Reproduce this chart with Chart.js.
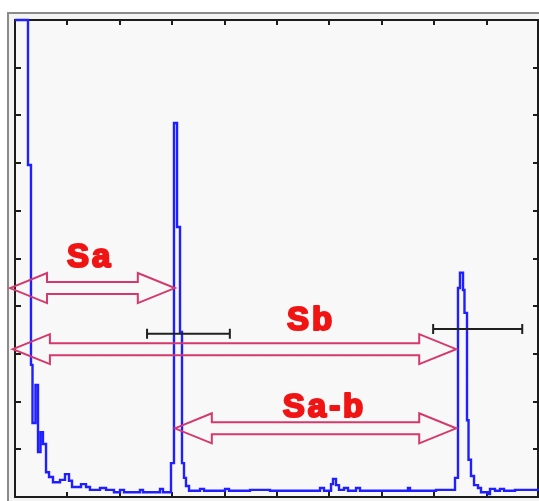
<!DOCTYPE html>
<html lang="en">
<head>
    <meta charset="UTF-8">
    <title>Spectrum Sa / Sb</title>
    <style>
        body { margin: 0; background: #fff; }
        canvas { display: block; }
    </style>
</head>
<body>
    <canvas id="myChart" width="539" height="501"></canvas>

    <script src="https://cdn.jsdelivr.net/npm/chart.js"></script>

    <script>
        // spectrum (x = channel, y = relative intensity, 0..100)
        const specX = [0, 2.48, 3.05, 3.34, 3.91, 4.39, 4.87, 5.34, 5.92, 6.49, 7.25, 8.59, 9.54, 10.31,
            10.88, 12.6, 13.55, 14.31, 16.22, 17.37, 18.89, 20.04, 20.8, 23.85, 24.43, 27.67, 28.24,
            29.77, 30.34, 30.92, 31.49, 31.87, 32.25, 32.63, 33.21, 35.31, 36.07, 40.08, 40.84, 44.85,
            48.66, 58.21, 58.97, 60.31, 60.69, 61.26, 61.83, 62.79, 63.55, 65.08, 65.84, 75.0, 75.38,
            80.34, 83.97, 84.54, 84.92, 85.5, 85.78, 86.26, 86.55, 87.02, 87.6, 88.36, 88.93, 90.27,
            90.65, 91.6, 92.56, 93.32, 95.42, 100];
        const specY = [100, 69.6, 27.7, 15.5, 23.5, 9.4, 13.6, 11.1, 5.2, 4.2, 3.1, 3.6, 4.8, 3.4,
            2.1, 2.7, 2.1, 1.5, 1.9, 1.5, 1.0, 1.5, 1.0, 1.5, 1.0, 1.7, 1.0,
            7.1, 78.4, 56.6, 34.6, 7.1, 4.0, 2.3, 1.3, 1.7, 1.3, 1.7, 1.3, 1.5,
            1.3, 1.9, 1.3, 2.7, 3.8, 2.5, 1.5, 1.9, 1.3, 1.9, 1.3, 1.9, 1.3,
            1.5, 4.0, 43.8, 47.0, 43.4, 38.6, 16.1, 7.8, 4.4, 2.5, 1.9, 1.0, 0.6,
            1.7, 1.3, 1.7, 1.3, 1.5, 1.5];

        const xTicks = [0, 10, 20, 30, 40, 50, 60, 70, 80, 90, 100];
        const yTicks = [0, 10, 20, 30, 40, 50, 60, 70, 80, 90, 100];

        // double arrows between the peaks
        const arrowNames = ["Sa", "Sb", "Sa-b"];
        const arrowFrom = [-0.95, -0.4, 30.5];
        const arrowTo = [30.5, 84.2, 84.2];
        const arrowLevel = [43.8, 31.0, 14.4];
        const labelX = [9.9, 51.9, 51.1];
        const labelY = [48.2, 35.0, 16.8];

        // peak width markers
        const markFrom = [25.2, 79.8];
        const markTo = [41.0, 96.8];
        const markLevel = [34.2, 35.2];

        const spectrum = specX.map((x, i) => ({x, y: specY[i]}));

        const framePlugin = {
            id: "frame",
            beforeDraw(chart) {
                const ctx = chart.ctx;
                const a = chart.chartArea;
                ctx.save();
                ctx.fillStyle = "#ffffff";
                ctx.fillRect(0, 0, chart.width, chart.height);
                ctx.fillStyle = "#f4f4f4";
                ctx.fillRect(7, 12, chart.width - 7, chart.height - 12);
                ctx.strokeStyle = "#8a8a8a";
                ctx.lineWidth = 2;
                ctx.strokeRect(8, 13, chart.width, chart.height);
                ctx.fillStyle = "#f8f8f8";
                ctx.fillRect(a.left, a.top, a.right - a.left, a.bottom - a.top);
                ctx.restore();
            },
            beforeDatasetsDraw(chart) {
                // axes box with inward ticks, under the trace
                const ctx = chart.ctx;
                const a = chart.chartArea;
                const xs = chart.scales.x;
                const ys = chart.scales.y;
                ctx.save();
                ctx.strokeStyle = "#1c1c1c";
                ctx.lineWidth = 2;
                ctx.strokeRect(a.left, a.top, a.right - a.left - 1, a.bottom - a.top);
                ctx.beginPath();
                xTicks.forEach(t => {
                    const x = Math.round(xs.getPixelForValue(t));
                    ctx.moveTo(x, a.top); ctx.lineTo(x, a.top + 5);
                    ctx.moveTo(x, a.bottom); ctx.lineTo(x, a.bottom - 5);
                });
                yTicks.forEach(t => {
                    const y = Math.round(ys.getPixelForValue(t));
                    ctx.moveTo(a.left, y); ctx.lineTo(a.left + 6, y);
                    ctx.moveTo(a.right - 1, y); ctx.lineTo(a.right - 6, y);
                });
                ctx.stroke();
                ctx.restore();
            },
            afterDatasetsDraw(chart) {
                const ctx = chart.ctx;
                const xs = chart.scales.x;
                const ys = chart.scales.y;

                // arrows
                ctx.save();
                ctx.strokeStyle = "#d4386c";
                ctx.lineWidth = 2;
                const hl = 37, hh = 15, sh = 6;
                arrowNames.forEach((name, i) => {
                    const x1 = xs.getPixelForValue(arrowFrom[i]);
                    const x2 = xs.getPixelForValue(arrowTo[i]);
                    const y = ys.getPixelForValue(arrowLevel[i]);
                    ctx.beginPath();
                    ctx.moveTo(x1, y);
                    ctx.lineTo(x1 + hl, y - hh);
                    ctx.lineTo(x1 + hl, y - sh);
                    ctx.lineTo(x2 - hl, y - sh);
                    ctx.lineTo(x2 - hl, y - hh);
                    ctx.lineTo(x2, y);
                    ctx.lineTo(x2 - hl, y + hh);
                    ctx.lineTo(x2 - hl, y + sh);
                    ctx.lineTo(x1 + hl, y + sh);
                    ctx.lineTo(x1 + hl, y + hh);
                    ctx.closePath();
                    ctx.stroke();
                });

                // labels
                ctx.fillStyle = "#f01414";
                ctx.strokeStyle = "#f01414";
                ctx.lineWidth = 2.2;
                ctx.lineJoin = "round";
                ctx.font = "bold 33px 'Liberation Sans', Arial, sans-serif";
                ctx.textBaseline = "alphabetic";
                if ("letterSpacing" in ctx) ctx.letterSpacing = "3px";
                arrowNames.forEach((name, i) => {
                    const x = xs.getPixelForValue(labelX[i]);
                    const y = ys.getPixelForValue(labelY[i]);
                    ctx.fillText(name, x, y);
                    ctx.strokeText(name, x, y);
                });
                if ("letterSpacing" in ctx) ctx.letterSpacing = "0px";

                // width markers
                ctx.strokeStyle = "#202020";
                ctx.lineWidth = 2;
                markFrom.forEach((m, i) => {
                    const x1 = xs.getPixelForValue(m);
                    const x2 = xs.getPixelForValue(markTo[i]);
                    const y = ys.getPixelForValue(markLevel[i]);
                    ctx.beginPath();
                    ctx.moveTo(x1, y); ctx.lineTo(x2, y);
                    ctx.moveTo(x1, y - 5); ctx.lineTo(x1, y + 5);
                    ctx.moveTo(x2, y - 5); ctx.lineTo(x2, y + 5);
                    ctx.stroke();
                });
                ctx.restore();
            }
        };

        const ctx = document.getElementById("myChart");
        new Chart(ctx, {
            type: "line",
            data: {
                datasets: [{
                    label: "spectrum",
                    data: spectrum,
                    stepped: true,
                    borderColor: "#1f1fff",
                    borderWidth: 2.4,
                    pointRadius: 0,
                    fill: false,
                    clip: 3
                }]
            },
            options: {
                responsive: false,
                animation: false,
                layout: { padding: { left: 15, top: 20, right: 0, bottom: 4 } },
                plugins: { legend: { display: false }, tooltip: { enabled: false } },
                scales: {
                    x: { type: "linear", min: 0, max: 100, display: false },
                    y: { type: "linear", min: 0, max: 100, display: false }
                }
            },
            plugins: [framePlugin]
        });
    </script>
</body>
</html>
